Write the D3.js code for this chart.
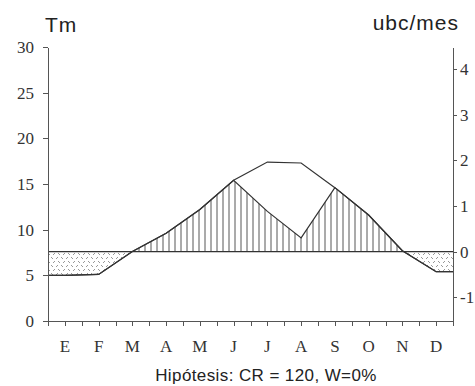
<!DOCTYPE html>
<meta charset="utf-8">
<head>
    <style>
        body { margin: 0; background: #fff; }
        .axis text { font: 17px "Liberation Serif", serif; fill: #333; }
        .axis path, .axis line { stroke: #555; shape-rendering: crispEdges; }
        .title { font: 21px "Liberation Sans", sans-serif; fill: #222; letter-spacing: 1px; }
        .caption { font: 17px "Liberation Sans", sans-serif; fill: #222; letter-spacing: 0.4px; }
    </style>
</head>
<body>
    <script src="https://cdn.jsdelivr.net/npm/d3@7"></script>
    <div id="chart"></div>
    <script>
        // data
        var months = ["E", "F", "M", "A", "M", "J", "J", "A", "S", "O", "N", "D"];
        // Tm, upper line
        var tm = [5.0, 5.1, 7.6, 9.6, 12.2, 15.4, 17.4, 17.3, 14.6, 11.6, 7.7, 5.4];
        // hatched line (same as Tm except J-A)
        var hatch = [5.0, 5.1, 7.6, 9.6, 12.2, 15.4, 12.0, 9.1, 14.6, 11.6, 7.7, 5.4];
        var leftTicks = [0, 5, 10, 15, 20, 25, 30];
        var rightTicks = [-1, 0, 1, 2, 3, 4];
        var caption = "Hipótesis: CR = 120, W=0%";

        var W = 475, H = 386;
        var svg = d3.select("#chart").append("svg")
            .attr("width", W)
            .attr("height", H);

        // scales
        var x = d3.scaleLinear().domain([0, 12]).range([48, 453]);
        var yL = d3.scaleLinear().domain([0, 30]).range([321, 47]);
        var yR = d3.scaleLinear().domain([-1.52, 4.48]).range([321, 47]);
        var base = yR(0);

        // points at month centres, extended flat to both axes
        function pts(vals) {
            var p = vals.map(function (v, i) { return { x: i + 0.5, v: v }; });
            p.unshift({ x: 0, v: vals[0] });
            p.push({ x: 12, v: vals[vals.length - 1] });
            return p;
        }

        // patterns
        var defs = svg.append("defs");
        var vp = defs.append("pattern")
            .attr("id", "vhatch")
            .attr("patternUnits", "userSpaceOnUse")
            .attr("width", 6).attr("height", 10);
        vp.append("line")
            .attr("x1", 1).attr("x2", 1).attr("y1", 0).attr("y2", 10)
            .attr("stroke", "#555").attr("stroke-width", 1);

        var xp = defs.append("pattern")
            .attr("id", "xhatch")
            .attr("patternUnits", "userSpaceOnUse")
            .attr("width", 10).attr("height", 8);
        xp.append("path")
            .attr("d", "M1,1 L3,3 M6,3 L8,1 M3,7 L5,5 M8,5 L10,7")
            .attr("stroke", "#999").attr("stroke-width", 1).attr("fill", "none");

        defs.append("clipPath").attr("id", "above")
            .append("rect").attr("x", x(0)).attr("y", yL(30))
            .attr("width", x(12) - x(0)).attr("height", base - yL(30));
        defs.append("clipPath").attr("id", "below")
            .append("rect").attr("x", x(0)).attr("y", base)
            .attr("width", x(12) - x(0)).attr("height", yL(0) - base);

        var area = d3.area()
            .x(function (d) { return x(d.x); })
            .y0(base)
            .y1(function (d) { return yL(d.v); });

        svg.append("path")
            .datum(pts(hatch))
            .attr("d", area)
            .attr("fill", "url(#vhatch)")
            .attr("clip-path", "url(#above)");

        svg.append("path")
            .datum(pts(hatch))
            .attr("d", area)
            .attr("fill", "url(#xhatch)")
            .attr("clip-path", "url(#below)");

        // baseline ubc = 0
        svg.append("line")
            .attr("x1", x(0)).attr("x2", x(12))
            .attr("y1", base).attr("y2", base)
            .attr("stroke", "#333").attr("stroke-width", 1.2);

        var line = d3.line()
            .x(function (d) { return x(d.x); })
            .y(function (d) { return yL(d.v); });

        svg.append("path")
            .datum(pts(hatch))
            .attr("d", line)
            .attr("fill", "none")
            .attr("stroke", "#333")
            .attr("stroke-width", 1.2);

        svg.append("path")
            .datum(pts(tm))
            .attr("d", line)
            .attr("fill", "none")
            .attr("stroke", "#333")
            .attr("stroke-width", 1.2);

        // axes
        svg.append("g")
            .attr("class", "axis")
            .attr("transform", "translate(" + x(0) + ",0)")
            .call(d3.axisLeft(yL).tickValues(leftTicks).tickSize(5).tickSizeOuter(0).tickPadding(9));

        svg.append("g")
            .attr("class", "axis")
            .attr("transform", "translate(" + x(12) + ",0)")
            .call(d3.axisRight(yR).tickValues(rightTicks).tickSize(4).tickSizeOuter(0)
                .tickPadding(3).tickFormat(function (d) { return String(d); }));

        svg.append("g")
            .attr("class", "axis")
            .attr("transform", "translate(0," + yL(0) + ")")
            .call(d3.axisBottom(x).tickValues(d3.range(0, 12.5, 0.5)).tickSize(5).tickSizeOuter(0).tickFormat(""));

        svg.append("g")
            .attr("class", "axis")
            .selectAll("text")
            .data(months)
            .enter()
            .append("text")
            .attr("x", function (d, i) { return x(i + 0.5); })
            .attr("y", 352)
            .attr("text-anchor", "middle")
            .text(function (d) { return d; });

        // titles
        svg.append("text")
            .attr("class", "title")
            .attr("x", 45).attr("y", 32)
            .text("Tm");

        svg.append("text")
            .attr("class", "title")
            .attr("x", 459).attr("y", 30)
            .attr("text-anchor", "end")
            .text("ubc/mes");

        svg.append("text")
            .attr("class", "caption")
            .attr("x", 266).attr("y", 381)
            .attr("text-anchor", "middle")
            .text(caption);
    </script>
</body>
